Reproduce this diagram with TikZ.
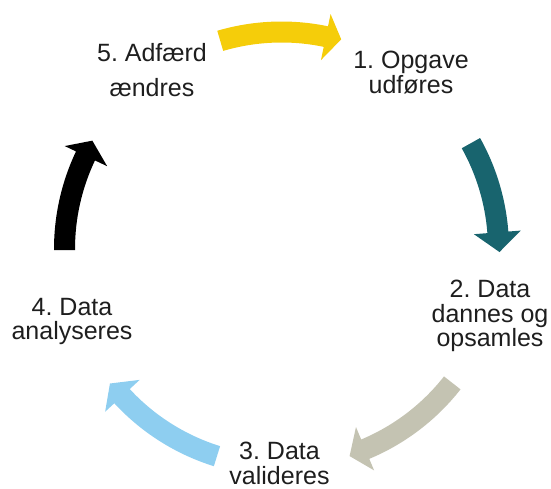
\documentclass[tikz,border=0pt]{standalone}
\usepackage{fontspec}
\setmainfont{Liberation Sans}
\frenchspacing
\definecolor{arYellow}{RGB}{245,205,10}
\definecolor{arTeal}{RGB}{24,100,110}
\definecolor{arGrey}{RGB}{196,195,178}
\definecolor{arBlue}{RGB}{142,206,240}
\definecolor{arBlack}{RGB}{0,0,0}
\definecolor{txtcol}{RGB}{30,30,30}
\def\ShaftOut{227.5}
\def\ShaftIn{206.5}
\def\HeadOut{240}
\def\HeadIn{193}
\def\TipR{218}
% #1 colour, #2 tail angle, #3 head base angle, #4 tip angle
\newcommand\cycarrow[4]{%
  \fill[#1] (#2:\ShaftOut) arc[start angle=#2, end angle=#3, radius=\ShaftOut]
    -- (#3:\HeadOut) -- (#4:\TipR) -- (#3:\HeadIn) -- (#3:\ShaftIn)
    arc[start angle=#3, end angle=#2, radius=\ShaftIn] -- cycle;}
\begin{document}
\begin{tikzpicture}[x=1pt,y=1pt,
  lbl/.style={font=\fontsize{25}{24.5}\selectfont\frenchspacing, align=center, inner sep=0pt, anchor=base, text=txtcol}]
\useasboundingbox (0,0) rectangle (551,489);
\begin{scope}[shift={(281.5,240)}]
  \cycarrow{arYellow}{106.4}{78.2}{74.1}
  \cycarrow{arTeal}{29.2}{4.4}{-0.8}
  \cycarrow{arGrey}{-38.1}{-67.3}{-71.8}
  \cycarrow{arBlue}{-107.3}{-137.3}{-141.9}
  \cycarrow{arBlack}{180.3}{154.6}{150.2}
\end{scope}
\node[lbl] (l5) at (152,392) {5. Adfærd\\[10.5pt]ændres};
\node[lbl] (l1) at (411,395.7) {1. Opgave\\udføres};
\node[lbl] (l2) at (490,142) {2. Data\\dannes og\\opsamles};
\node[lbl] (l4) at (72,149) {4. Data\\analyseres};
\node[lbl] (l3) at (279.5,4.5) {3. Data\\valideres};
\end{tikzpicture}
\end{document}
